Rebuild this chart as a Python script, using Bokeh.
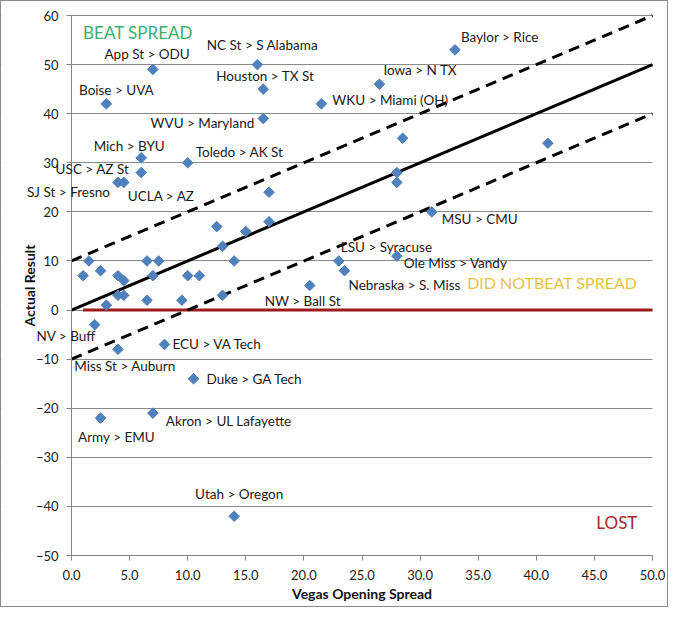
import numpy as np
from bokeh.plotting import figure
from bokeh.models import (Range1d, SingleIntervalTicker, NumeralTickFormatter, Label,
                          LinearAxis, BoxAnnotation)
from bokeh.embed import file_html
from bokeh.resources import INLINE

# ---------------- data ----------------
spread = [7, 3, 16, 16.5, 16.5, 26.5, 21.5, 33, 6, 10, 6, 4, 4.5,
          28.5, 28, 28, 41, 17, 31, 23, 23.5, 28, 20.5,
          12.5, 15, 17, 13, 14, 11, 13,
          1, 1.5, 2.5, 3, 4, 4.5, 4, 4.5, 6.5, 7.5, 7, 6.5, 9.5, 10,
          2, 4, 8, 10.5, 2.5, 7, 14]
result = [49, 42, 50, 45, 39, 46, 42, 53, 31, 30, 28, 26, 26,
          35, 28, 26, 34, 24, 20, 10, 8, 11, 5,
          17, 16, 18, 13, 10, 7, 3,
          7, 10, 8, 1, 7, 6, 3, 3, 10, 10, 7, 2, 2, 7,
          -3, -8, -7, -14, -22, -21, -42]
game = ["App St  > ODU", "Boise > UVA", "NC St > S Alabama", "Houston > TX St",
        "WVU > Maryland", "Iowa > N TX", "WKU > Miami (OH)", "Baylor > Rice",
        "Mich > BYU", "Toledo  > AK St", "USC > AZ St", "SJ St > Fresno", "UCLA > AZ",
        "", "", "", "", "", "MSU > CMU", "LSU > Syracuse", "Nebraska > S. Miss",
        "Ole Miss > Vandy", "NW > Ball St",
        "", "", "", "", "", "", "",
        "", "", "", "", "", "", "", "", "", "", "", "", "", "",
        "NV > Buff", "Miss St > Auburn", "ECU > VA Tech", "Duke > GA Tech",
        "Army > EMU", "Akron > UL Lafayette", "Utah > Oregon"]

line_x = [0, 50]
even_y = [0, 50]
upper_y = [10, 60]
lower_y = [-10, 40]
zero_x = [1, 50]
zero_y = [0, 0]

x_bounds = (0, 50)
y_bounds = (-50, 60)
x_title = "Vegas Opening Spread"
y_title = "Actual Result"
region_texts = ["BEAT SPREAD", "DID NOTBEAT SPREAD", "LOST"]

# ---------------- label layout (screen px: align, dx, dy; dy>0 = down) ----------------
label_layout = {
    "App St  > ODU": ("center", -4, -16),
    "Boise > UVA": ("center", 10, -14),
    "NC St > S Alabama": ("center", 5, -20),
    "Houston > TX St": ("center", 2, -13),
    "WVU > Maryland": ("right", -9, 4),
    "Iowa > N TX": ("left", 4, -14),
    "WKU > Miami (OH)": ("left", 11, -4),
    "Baylor > Rice": ("left", 6, -13),
    "Mich > BYU": ("center", -12, -12),
    "Toledo  > AK St": ("left", 8, -11),
    "USC > AZ St": ("right", -12, -4),
    "SJ St > Fresno": ("right", -8, 10),
    "UCLA > AZ": ("left", 4, 14),
    "MSU > CMU": ("left", 10, 7),
    "LSU > Syracuse": ("left", 2, -14),
    "Ole Miss > Vandy": ("left", 7, 7),
    "Nebraska > S. Miss": ("left", 4, 14),
    "NW > Ball St": ("center", -7, 15),
    "NV > Buff": ("right", 1, 11),
    "Miss St > Auburn": ("center", 7, 17),
    "ECU > VA Tech": ("left", 8, 0),
    "Duke > GA Tech": ("left", 13, 0),
    "Army > EMU": ("center", 16, 19),
    "Akron > UL Lafayette": ("left", 13, 8),
    "Utah > Oregon": ("center", 5, -22),
}

FONT = "Lato"

# The frame covers the whole chart; axes sit at fixed data locations inside it,
# so that data labels may run into the axis area without being clipped.
PX_X = 581 / 50.0     # px per x unit
PX_Y = 540 / 110.0    # px per y unit
x_lo = x_bounds[0] - 70 / PX_X
x_hi = x_bounds[1] + 15 / PX_X
y_hi = y_bounds[1] + 12 / PX_Y
y_lo = y_bounds[0] - 49 / PX_Y

p = figure(width=666, height=605, output_backend="svg", toolbar_location=None,
           x_range=Range1d(x_lo, x_hi), y_range=Range1d(y_lo, y_hi),
           x_axis_location=None, y_axis_location=None,
           min_border_left=0, min_border_right=0, min_border_top=2, min_border_bottom=2)
p.frame_width = 666
p.frame_height = 601
p.outline_line_color = None
p.background_fill_color = "white"
p.border_fill_color = "white"
p.styles = {"border": "1px solid #8a8a8a", "box-sizing": "border-box"}

xax = LinearAxis(fixed_location=y_bounds[0], bounds=x_bounds,
                 ticker=SingleIntervalTicker(interval=5),
                 formatter=NumeralTickFormatter(format="0.0"))
yax = LinearAxis(fixed_location=x_bounds[0], bounds=y_bounds,
                 ticker=SingleIntervalTicker(interval=10))
p.add_layout(xax, "below")
p.add_layout(yax, "left")

# grid (horizontal only)
p.xgrid.grid_line_color = None
p.ygrid.grid_line_color = "#8a8a8a"
p.ygrid.grid_line_width = 1
p.ygrid.ticker = SingleIntervalTicker(interval=10)
p.ygrid.bounds = y_bounds

# mask grid outside the x extent of the plot area
p.add_layout(BoxAnnotation(right=x_bounds[0], fill_color="white", fill_alpha=1.0,
                           line_color=None, level="underlay"))
p.add_layout(BoxAnnotation(left=x_bounds[1], fill_color="white", fill_alpha=1.0,
                           line_color=None, level="underlay"))

for ax in (xax, yax):
    ax.axis_line_color = "#868686"
    ax.major_tick_line_color = "#868686"
    ax.major_tick_out = 5
    ax.major_tick_in = 0
    ax.minor_tick_line_color = None
    ax.major_label_text_font = FONT
    ax.major_label_text_font_size = "13px"
    ax.major_label_text_color = "#222222"
xax.major_label_standoff = 9
yax.major_label_standoff = 8

# axis titles
p.add_layout(Label(x=sum(x_bounds) / 2, y=y_bounds[0], text=x_title, y_offset=-38,
                   text_align="center", text_baseline="middle", text_font=FONT,
                   text_font_size="14px", text_font_style="bold", text_color="#111111"))
p.add_layout(Label(x=x_bounds[0], y=sum(y_bounds) / 2, text=y_title, x_offset=-42,
                   angle=np.pi / 2, text_align="center", text_baseline="middle",
                   text_font=FONT, text_font_size="14px", text_font_style="bold",
                   text_color="#111111"))

# lines
p.line(zero_x, zero_y, line_color="#9C1A1C", line_width=3)
p.line(line_x, upper_y, line_color="black", line_width=3, line_dash="11 7")
p.line(line_x, lower_y, line_color="black", line_width=3, line_dash="11 7")
p.line(line_x, even_y, line_color="black", line_width=3)

# points
p.scatter(spread, result, marker="square", angle=np.pi / 4, size=7.5,
          fill_color="#4F81BD", line_color="#4F81BD")

# labels: one Label annotation per named game
for xs, ys, name in zip(spread, result, game):
    if not name:
        continue
    al, dx, dy = label_layout[name]
    p.add_layout(Label(x=xs, y=ys, text=name, x_offset=dx, y_offset=-dy,
                       text_align=al, text_baseline="middle", text_font=FONT,
                       text_font_size="13.5px", text_color="#1a1a1a", level="overlay"))

# region annotations
p.add_layout(Label(x=1, y=56.5, text=region_texts[0], text_font=FONT,
                   text_font_size="17px", text_color="#3EAE6E", text_baseline="middle"))
p.add_layout(Label(x=48.7, y=5.7, text=region_texts[1], text_font=FONT,
                   text_font_size="16px", text_color="#E5C244", text_baseline="middle",
                   text_align="right"))
p.add_layout(Label(x=48.7, y=-43.3, text=region_texts[2], text_font=FONT,
                   text_font_size="17px", text_color="#A52A2A", text_baseline="middle",
                   text_align="right"))

open("out.html", "w").write(file_html(p, INLINE))
